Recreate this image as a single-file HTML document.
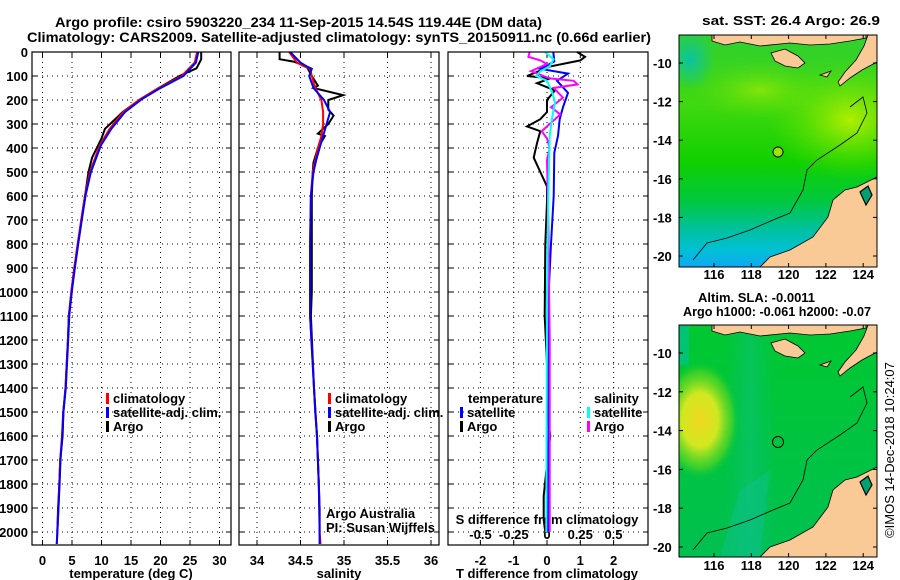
<!DOCTYPE html>
<html><head><meta charset="utf-8"><style>
html,body{margin:0;padding:0;background:#fff;}
svg{display:block;font-family:"Liberation Sans",Arial,sans-serif;}
.b{font-weight:bold;font-size:13px;fill:#000;}
.t{font-weight:bold;font-size:14px;fill:#000;}
</style></head><body>
<svg id="fig" width="900" height="580" viewBox="0 0 900 580" xmlns="http://www.w3.org/2000/svg">
<defs>
<linearGradient id="sstBase" x1="0" y1="0" x2="0" y2="1">
<stop offset="0" stop-color="#30d030"/><stop offset="0.3" stop-color="#40d810"/><stop offset="0.55" stop-color="#10d000"/><stop offset="0.72" stop-color="#00c840"/><stop offset="0.84" stop-color="#00c0a0"/><stop offset="0.93" stop-color="#00c0d8"/><stop offset="1" stop-color="#10a8f0"/>
</linearGradient>
<radialGradient id="sstWarm" cx="0.5" cy="0.5" r="0.5"><stop offset="0" stop-color="#b8f000" stop-opacity="0.95"/><stop offset="1" stop-color="#60e000" stop-opacity="0"/></radialGradient>
<radialGradient id="sstLeft" cx="0.5" cy="0.5" r="0.5"><stop offset="0" stop-color="#00c0c0" stop-opacity="0.8"/><stop offset="1" stop-color="#00c0c0" stop-opacity="0"/></radialGradient>
<linearGradient id="slaBase" x1="0" y1="0" x2="0" y2="1"><stop offset="0" stop-color="#00c830"/><stop offset="1" stop-color="#00c050"/></linearGradient>
<radialGradient id="slaYellow" cx="0.5" cy="0.5" r="0.5"><stop offset="0" stop-color="#f0d820"/><stop offset="0.45" stop-color="#d0e820"/><stop offset="0.8" stop-color="#60d820" stop-opacity="0.6"/><stop offset="1" stop-color="#00c830" stop-opacity="0"/></radialGradient>
<linearGradient id="slaTeal" x1="0" y1="0" x2="1" y2="0"><stop offset="0" stop-color="#10c090" stop-opacity="0"/><stop offset="0.5" stop-color="#10c090" stop-opacity="0.8"/><stop offset="1" stop-color="#10c090" stop-opacity="0"/></linearGradient>
<clipPath id="m1clip"><rect x="679" y="35" width="198" height="232"/></clipPath>
<clipPath id="m2clip"><rect x="679" y="325" width="198" height="232"/></clipPath>
<g id="landShapes">
<path d="M877,177 L857,187 L845,190 L833,200 L828,217 L813,237 L790,250 L770,257 L760,267 L877,267 Z" fill="#f9c996" stroke="#000" stroke-width="0.8"/>
<path d="M877,35 L877,62 L862,70 L850,78 L840,86 L838,82 L845,72 L856,60 L864,46 L868,35 Z" fill="#f9c996" stroke="#000" stroke-width="0.8"/>
<path d="M712,33 L712,41 L725,45 L740,42 L760,46 L790,43 L810,45 L830,44 L850,41 L866,38 L866,33 Z" fill="#f9c996" stroke="#000" stroke-width="0.8"/>
<path d="M771,53 L785,49 L798,56 L805,63 L798,68 L785,66 L775,61 Z" fill="#f9c996" stroke="#000" stroke-width="0.8"/>
<path d="M820,75 L831,71 L827,77 Z" fill="#f9c996" stroke="#000" stroke-width="0.8"/>
<path d="M860,192 L868,186 L872,195 L866,205 Z" fill="#00a070" stroke="#000" stroke-width="1.2"/>
<path d="M693,260 L707,243 L727,238 L750,230 L773,220 L790,213 L803,190 L807,170 L817,160 L840,145 L857,133 L867,113 L863,97 L850,107" fill="none" stroke="#000" stroke-width="0.8"/>
</g>
</defs>

<text class="t" x="55" y="27" textLength="487" lengthAdjust="spacingAndGlyphs">Argo profile: csiro 5903220_234 11-Sep-2015 14.54S 119.44E (DM data)</text>
<text class="t" x="27" y="42" textLength="624" lengthAdjust="spacingAndGlyphs">Climatology: CARS2009. Satellite-adjusted climatology: synTS_20150911.nc (0.66d earlier)</text>
<text class="b" x="702" y="25" textLength="178" lengthAdjust="spacingAndGlyphs">sat. SST: 26.4 Argo: 26.9</text>

<g id="panels"></g>

<g>
<g clip-path="url(#m1clip)">
<rect x="679" y="35" width="198" height="232" fill="url(#sstBase)"/>
<ellipse cx="850" cy="120" rx="80" ry="60" fill="url(#sstWarm)"/>
<ellipse cx="760" cy="90" rx="70" ry="30" fill="url(#sstWarm)" opacity="0.6"/>
<ellipse cx="690" cy="60" rx="25" ry="30" fill="url(#sstLeft)"/>
<use href="#landShapes"/>
<circle cx="778" cy="152" r="5" fill="#9be600" stroke="#000" stroke-width="1"/>
</g>
<rect x="679" y="35" width="198" height="232" fill="none" stroke="#000" stroke-width="1"/>
</g>
<g>
<g clip-path="url(#m2clip)">
<rect x="679" y="325" width="198" height="232" fill="url(#slaBase)"/>
<rect x="725" y="325" width="50" height="232" fill="url(#slaTeal)" opacity="0.5"/>
<polygon points="740,490 770,470 760,557 720,557" fill="#10c090" opacity="0.45"/>
<ellipse cx="700" cy="420" rx="40" ry="60" fill="url(#slaYellow)"/>
<rect x="679" y="325" width="10" height="40" fill="#00c0a0" opacity="0.6"/>
<use href="#landShapes" transform="translate(0,290)"/>
<circle cx="778" cy="442" r="5.5" fill="none" stroke="#000" stroke-width="1"/>
</g>
<rect x="679" y="325" width="198" height="232" fill="none" stroke="#000" stroke-width="1"/>
</g>
<text class="b" x="698" y="302">Altim. SLA: -0.0011</text>
<text class="b" x="683" y="316" textLength="188" lengthAdjust="spacingAndGlyphs">Argo h1000: -0.061 h2000: -0.07</text>
<text x="894" y="450" transform="rotate(-90 894 450)" text-anchor="middle" font-size="13" fill="#000">©IMOS 14-Dec-2018 10:24:07</text>
<g id="mapAxes"></g>
</svg>
<script>
var depthTicks = [0,100,200,300,400,500,600,700,800,900,1000,1100,1200,1300,1400,1500,1600,1700,1800,1900,2000];
var tempTicks = [0,5,10,15,20,25,30];
var salTicks = [34,34.5,35,35.5,36];
var salTickLabels = ["34","34.5","35","35.5","36"];
var tdiffTicks = [-2,-1,0,1,2];
var sdiffTicks = [-0.5,-0.25,0,0.25,0.5];
var sdiffTickLabels = ["-0.5","-0.25","0","0.25","0.5"];
var lonTicks = [116,118,120,122,124];
var latTicks = [-10,-12,-14,-16,-18,-20];

var climDepth = [0,44,100,156,197,250,319,389,500,597,694,792,896,993,1097,1200,1300,1400,1500,1600,1700,1800,1900,2000,2050];
var climTemp  = [26.2,25.8,23.6,19.3,16.5,13.7,11.4,9.7,8.05,7.2,6.6,6.0,5.4,4.9,4.5,4.3,4.1,3.9,3.5,3.3,3.0,2.85,2.7,2.5,2.4];
var satTemp   = [26.4,26.0,23.9,19.6,16.8,14.0,11.7,9.9,8.2,7.3,6.7,6.1,5.5,5.0,4.55,4.35,4.15,3.95,3.55,3.35,3.05,2.9,2.72,2.52,2.42];
var argoTDepth = [0,30,68,100,150,200,250,320,360,440,500,600,700,800,900,1000,1100,1200,1300,1400,1500,1600,1700,1800,1900,2000];
var argoTemp   = [26.9,26.9,26.1,23.2,19.7,16.4,13.6,10.6,10.0,8.4,7.8,7.2,6.6,6.0,5.4,4.9,4.45,4.3,4.1,3.9,3.55,3.4,3.0,2.85,2.65,2.5];

var climSDepth = [0,44,58,70,100,150,200,250,300,350,400,450,500,600,800,1100,1400,1500,1600,1700,1800,1900,2000,2050];
var climSal    = [34.37,34.46,34.53,34.61,34.63,34.67,34.74,34.76,34.76,34.74,34.70,34.67,34.64,34.62,34.61,34.61,34.655,34.67,34.69,34.70,34.71,34.72,34.72,34.73];
var satSal     = [34.38,34.50,34.56,34.63,34.60,34.65,34.77,34.84,34.80,34.76,34.72,34.68,34.65,34.62,34.61,34.61,34.655,34.67,34.69,34.70,34.71,34.72,34.72,34.72];
var argoSDepth = [0,30,40,60,100,140,150,180,200,240,265,300,340,350,400,460,500,600,1000,1100,1400,1600,1800,2000];
var argoSal    = [34.26,34.26,34.42,34.57,34.63,34.70,34.65,34.99,34.82,34.82,34.88,34.82,34.70,34.78,34.70,34.65,34.64,34.63,34.63,34.62,34.655,34.69,34.71,34.72];

var dTDepth = [0,20,35,60,100,110,130,160,200,250,280,310,330,380,440,500,560,625,800,1100,1300,1550,1600,1650,1850,1950,2000];
var argoTdiff = [0.9,1.14,1.0,0.1,-0.6,0.1,-0.3,0.24,0,0,-0.2,-0.6,-0.2,-0.3,-0.4,-0.2,0,0,-0.05,-0.07,0,0.05,0.1,0.05,-0.1,-0.1,-0.05];
var satTDepth = [0,40,70,90,120,170,230,280,350,420,600,800,1000,1500,2000];
var satTdiff  = [0.19,0.22,-0.2,0.63,0.3,0.63,0.48,0.38,0.33,0.22,0.2,0.12,0.05,0.05,0.03];
var argoSDDepth = [0,20,35,50,80,110,120,135,150,190,230,260,300,330,360,400,450,700,1200,1900,2000];
var argoSdiff   = [-0.13,-0.14,-0.05,0,-0.12,0.02,0.2,0.23,0.05,0.12,0.03,0.1,0.02,-0.04,0,0.02,0,0.01,0.02,0.02,0.02];
var satSDDepth = [0,30,60,80,100,120,170,210,270,350,600,1000,2000];
var satSdiff   = [-0.015,0.05,0.02,-0.05,-0.08,0,0.04,0.06,0.04,0.02,0.01,0,-0.005];

var NS = 'http://www.w3.org/2000/svg';
var TOP = 52, BOT = 545;
function yD(d){ return TOP + d*0.24; }
function xT(t){ return 42.5 + t*5.9; }
function xS(s){ return 257 + (s-34)*87; }
function xTd(t){ return 547 + t*33.3; }
function xSd(s){ return 547 + s*133; }
function xLon(l){ return 714 + (l-116)*18.65; }
function yLat1(l){ return 63 + (-10-l)*19.3; }
function yLat2(l){ return 353 + (-10-l)*19.4; }

var root = document.getElementById('panels');
function el(tag, attrs, parent){
  var e = document.createElementNS(NS, tag);
  for (var k in attrs) e.setAttribute(k, attrs[k]);
  (parent||root).appendChild(e); return e;
}
function txt(x,y,s,cls,anchor,parent){
  var t = el('text',{x:x,y:y,'class':cls||'b','text-anchor':anchor||'start'},parent);
  t.textContent = s; return t;
}
function line(pts, color, parent, w){
  var d = pts.map(function(p,i){return (i?'L':'M')+p[0].toFixed(1)+','+p[1].toFixed(1);}).join(' ');
  return el('path',{d:d,fill:'none',stroke:color,'stroke-width':w||2},parent);
}

var panels = [
  {name:'temperature-panel', x0:32, x1:231},
  {name:'salinity-panel', x0:239, x1:439},
  {name:'difference-panel', x0:448, x1:648}
];
panels.forEach(function(p){
  var g = el('g',{});
  
  
  p.g = g;
});

var gY = el('g',{});


depthTicks.forEach(function(d){
  var t = txt(28, yD(d)+5, String(d), 'b', 'end', gY);
  
  
});

panels.forEach(function(p){
  depthTicks.forEach(function(d){
    if (d===0) return;
    var y = yD(d);
    el('line',{x1:p.x0,x2:p.x1,y1:y,y2:y,stroke:'#000','stroke-width':1,'stroke-dasharray':'1,4'},p.g);
    el('line',{x1:p.x0,x2:p.x0+5,y1:y,y2:y,stroke:'#000'},p.g);
    el('line',{x1:p.x1-5,x2:p.x1,y1:y,y2:y,stroke:'#000'},p.g);
  });
});
function vgrid(p, xs){
  xs.forEach(function(x){
    el('line',{x1:x,x2:x,y1:TOP,y2:BOT,stroke:'#000','stroke-width':1,'stroke-dasharray':'1,4'},p.g);
    el('line',{x1:x,x2:x,y1:TOP,y2:TOP+5,stroke:'#000'},p.g);
    el('line',{x1:x,x2:x,y1:BOT-5,y2:BOT,stroke:'#000'},p.g);
  });
}
vgrid(panels[0], tempTicks.map(xT));
vgrid(panels[1], salTicks.map(xS));
vgrid(panels[2], tdiffTicks.map(xTd));

tempTicks.forEach(function(t){
  var e = txt(xT(t), 565, String(t), 'b', 'middle', panels[0].g);
  
  
});
salTicks.forEach(function(s,i){
  var e = txt(xS(s), 565, salTickLabels[i], 'b', 'middle', panels[1].g);
  
  
});
tdiffTicks.forEach(function(t){
  var e = txt(xTd(t), 565, String(t), 'b', 'middle', panels[2].g);
  
  
});
sdiffTicks.forEach(function(s,i){
  var e = txt(xSd(s), 539, sdiffTickLabels[i], 'b', 'middle', panels[2].g);
  
  
});
var xt1 = txt(xT(15), 578, 'temperature (deg C)', 'b', 'middle', panels[0].g);


var xt2 = txt(339, 578, 'salinity', 'b', 'middle', panels[1].g);


var xt3 = txt(547, 578, 'T difference from climatology', 'b', 'middle', panels[2].g);


var xt4 = txt(547, 524, 'S difference from climatology', 'b', 'middle', panels[2].g);



function series(depths, vals, fx, color, parent, name){
  var pts = depths.map(function(d,i){ return [fx(vals[i]), yD(d)]; });
  var l = line(pts, color, parent, 2);
  
  
}
series(argoTDepth, argoTemp, xT, '#000', panels[0].g, 'argo-temperature-line');
series(climDepth, climTemp, xT, '#f00', panels[0].g, 'climatology-temperature-line');
series(climDepth, satTemp, xT, '#00f', panels[0].g, 'satellite-temperature-line');
series(argoSDepth, argoSal, xS, '#000', panels[1].g, 'argo-salinity-line');
series(climSDepth, climSal, xS, '#f00', panels[1].g, 'climatology-salinity-line');
series(climSDepth, satSal, xS, '#00f', panels[1].g, 'satellite-salinity-line');
series(dTDepth, argoTdiff, xTd, '#000', panels[2].g, 'argo-t-difference-line');
series(satTDepth, satTdiff, xTd, '#00f', panels[2].g, 'satellite-t-difference-line');
series(argoSDDepth, argoSdiff, xSd, '#f0f', panels[2].g, 'argo-s-difference-line');
series(satSDDepth, satSdiff, xSd, '#0ff', panels[2].g, 'satellite-s-difference-line');

panels.forEach(function(p){
  el('rect',{x:p.x0,y:TOP,width:p.x1-p.x0,height:BOT-TOP,fill:'none',stroke:'#000','stroke-width':1.2},p.g);
});

function legend(x, y, color, label, parent){
  var g = el('g',{},parent);
  
  
  el('rect',{x:x,y:y-10,width:3,height:11,fill:color},g);
  txt(x+7, y, label, 'b', 'start', g);
}
legend(106, 403, '#f00', 'climatology', panels[0].g);
legend(106, 417, '#00f', 'satellite-adj. clim.', panels[0].g);
legend(106, 431, '#000', 'Argo', panels[0].g);
legend(328, 403, '#f00', 'climatology', panels[1].g);
legend(328, 417, '#00f', 'satellite-adj. clim.', panels[1].g);
legend(328, 431, '#000', 'Argo', panels[1].g);
txt(468, 403, 'temperature', 'b', 'start', panels[2].g);
txt(594, 403, 'salinity', 'b', 'start', panels[2].g);
legend(460, 417, '#00f', 'satellite', panels[2].g);
legend(460, 431, '#000', 'Argo', panels[2].g);
legend(587, 417, '#0ff', 'satellite', panels[2].g);
legend(587, 431, '#f0f', 'Argo', panels[2].g);

var cr1 = txt(326, 518, 'Argo Australia', '', 'start', panels[1].g);
cr1.setAttribute('font-size','13');  
var cr2 = txt(326, 532, 'PI: Susan Wijffels', '', 'start', panels[1].g);
cr2.setAttribute('font-size','13');  

var ma = document.getElementById('mapAxes');
[[yLat1,35,267,279],[yLat2,325,557,570]].forEach(function(m){
  lonTicks.forEach(function(l){
    var x = xLon(l);
    el('line',{x1:x,x2:x,y1:m[1],y2:m[1]+4,stroke:'#000'},ma);
    el('line',{x1:x,x2:x,y1:m[2]-4,y2:m[2],stroke:'#000'},ma);
    var t = txt(x, m[3], String(l), 'b', 'middle', ma);
    
    
  });
  latTicks.forEach(function(l){
    var y = m[0](l);
    el('line',{x1:679,x2:683,y1:y,y2:y,stroke:'#000'},ma);
    el('line',{x1:873,x2:877,y1:y,y2:y,stroke:'#000'},ma);
    var t = txt(653, y+5, String(l), 'b', 'start', ma);
    
    
  });
});
</script>
</body></html>
